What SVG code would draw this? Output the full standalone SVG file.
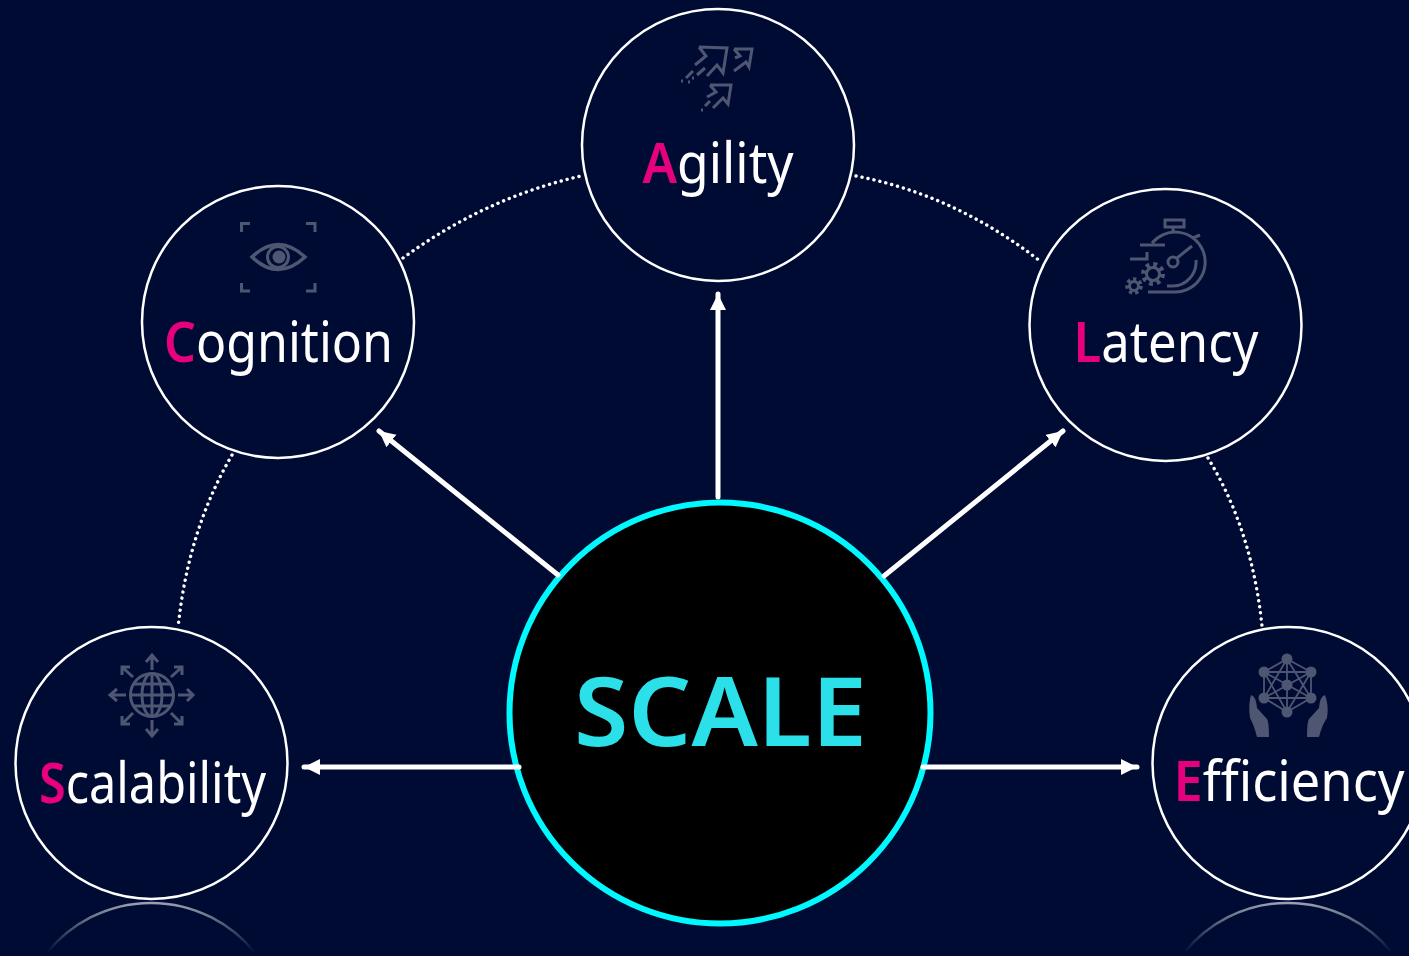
<svg xmlns="http://www.w3.org/2000/svg" width="1409" height="956" viewBox="0 0 1409 956">
<style>
.node{fill:none;stroke:#fff;stroke-width:2.5}
.lbl{font-family:"Noto Sans","Noto Sans CJK KR",sans-serif;font-size:56px;fill:#fff;text-anchor:middle;font-variant-ligatures:none}
.lbl tspan{fill:#e6007e;font-weight:600}
.ic{fill:none;stroke:#4f5672;stroke-width:3}
.icf{fill:#4f5672}
.dot{fill:none;stroke:#fff;stroke-width:3.4;stroke-dasharray:0.1 6;stroke-linecap:round}
.arr{stroke:#fff;stroke-width:5;fill:none;marker-end:url(#ah);stroke-linecap:round}
</style>
<defs>
<marker id="ah" markerUnits="userSpaceOnUse" markerWidth="18" markerHeight="18" refX="16" refY="8" orient="auto"><path d="M0 0L16 8L0 16z" fill="#fff"/></marker>
<linearGradient id="fade" x1="0" y1="0" x2="0" y2="1"><stop offset="0" stop-color="#9a9fb2"/><stop offset="1" stop-color="#8d92a6" stop-opacity="0"/></linearGradient>
</defs>
<rect width="1409" height="956" fill="#000b33"/>
<g id="reflections" fill="none" stroke="url(#fade)" stroke-width="2.5">
<path d="M47 953A133 133 0 0 1 255 953"/>
<path d="M1184 953A133 133 0 0 1 1392 953"/>
</g>
<g id="scale">
<circle cx="720" cy="713" r="210.500" fill="#000" stroke="#00f8ff" stroke-width="6"/>
<text x="720.500" y="746" text-anchor="middle" font-family="'Noto Sans','Noto Sans CJK KR',sans-serif" font-weight="600" font-size="95" fill="#2be0e8" textLength="293" lengthAdjust="spacingAndGlyphs">SCALE</text>
</g>
<g id="connectors">
<path class="dot" d="M403 258Q485 198 581 176"/>
<path class="dot" d="M856 176Q955 195 1040 261"/>
<path class="dot" d="M232 455Q188 530 178 628"/>
<path class="dot" d="M1208 458Q1252 530 1262 626"/>
<path class="arr" d="M718 497V294"/>
<path class="arr" d="M558 575L379 431"/>
<path class="arr" d="M884 576L1063 431"/>
<path class="arr" d="M519 767H304"/>
<path class="arr" d="M923 767H1137"/>
</g>
<g id="agility">
<circle class="node" cx="718" cy="145" r="136"/>
<g class="ic">
<path d="M699 47L727 48L723 73L717 65L707 76M699 47L706 56L695 65"/>
<path d="M705 68L697 75M693 71L686 78"/>
<path d="M734 49H752L749 67L746 62L734 71M734 49L740 56L735 58"/>
<path d="M710 85H731L728 104L723 98L713 108M710 85L716 92L707 97M710 101L705 106"/>
<path d="M681 81h2M688 82h2M692 78h2M701 110h2"/>
</g>
<text class="lbl" x="718" y="183" textLength="151" lengthAdjust="spacingAndGlyphs"><tspan>A</tspan>gility</text>
</g>
<g id="cognition">
<circle class="node" cx="278" cy="322" r="136"/>
<g class="ic">
<path d="M250 223.500H241.500V232M306 223.500H315V232M250 291H241.500V283M315 283V291H306"/>
<path stroke-width="3.500" d="M252 257Q278 232 305 257Q278 282 252 257z"/>
<circle cx="278" cy="257" r="10.500" stroke-width="3"/>
</g>
<circle class="icf" cx="279" cy="257" r="6.500"/>
<text class="lbl" x="278.500" y="362" textLength="229" lengthAdjust="spacingAndGlyphs"><tspan>C</tspan>ognition</text>
</g>
<g id="latency">
<circle class="node" cx="1165.500" cy="325" r="136"/>
<g class="ic">
<path d="M1165 220H1184V227H1165zM1173 227V233M1152 243A30 30 0 1 1 1173 292H1148M1167 286H1173A24 24 0 0 0 1196 260M1177 258L1192 246M1193 238L1200 235M1140 245H1165M1130 259H1147V252"/>
<circle cx="1173" cy="262" r="5"/>
<circle cx="1153" cy="274" r="6.500"/>
<circle cx="1153" cy="274" r="9.500" stroke-width="5" stroke-dasharray="3.700 3.760"/>
<circle cx="1134" cy="286" r="4.500"/>
<circle cx="1134" cy="286" r="6.500" stroke-width="4.500" stroke-dasharray="3 2.800"/>
</g>
<text class="lbl" x="1166" y="362" textLength="185" lengthAdjust="spacingAndGlyphs"><tspan>L</tspan>atency</text>
</g>
<g id="scalability">
<circle class="node" cx="151.500" cy="763" r="136"/>
<g class="ic">
<circle cx="152" cy="695" r="21.500"/>
<ellipse cx="152" cy="695" rx="10" ry="21.500"/>
<path d="M152 674V716M131 695H173M134 684H170M134 706H170"/>
<path d="M152 670V656M146 662L152 655L158 662M152 720V735M146 729L152 736L158 729M126 695H111M117 689L110 695L117 701M178 695H193M187 689L193 695L187 701"/>
<path d="M133 677L122 667M122 675V667H130M171 677L182 667M182 675V667H174M133 713L122 724M122 716V724H130M171 713L182 724M182 716V724H174"/>
</g>
<text class="lbl" x="152.500" y="803" textLength="227" lengthAdjust="spacingAndGlyphs"><tspan>S</tspan>calability</text>
</g>
<g id="efficiency">
<circle class="node" cx="1288.500" cy="763" r="136"/>
<path class="ic" style="stroke-width:1.800" d="M1287 659L1311 672V698L1287 712L1264 698V672zM1287 659V712M1264 672L1311 698M1311 672L1264 698M1287 659L1264 698M1287 659L1311 698M1264 672L1287 712M1311 672L1287 712M1264 672H1311M1264 698H1311"/>
<g class="icf">
<circle cx="1287" cy="659" r="5.500"/><circle cx="1264" cy="672" r="5.500"/><circle cx="1311" cy="672" r="5.500"/><circle cx="1287" cy="685" r="5.500"/><circle cx="1264" cy="698" r="5.500"/><circle cx="1311" cy="698" r="5.500"/><circle cx="1287" cy="712" r="5.500"/>
<path d="M1251 695Q1256 696 1257 708L1267 719Q1269 722 1269 737L1257 737Q1254 725 1250 718Q1248 705 1251 695Z"/>
<path d="M1325 695Q1320 696 1319 708L1309 719Q1307 722 1307 737L1319 737Q1322 725 1327 718Q1329 705 1325 695Z"/>
</g>
<text class="lbl" x="1289" y="801" textLength="231" lengthAdjust="spacingAndGlyphs"><tspan>E</tspan>fficiency</text>
</g>
</svg>
